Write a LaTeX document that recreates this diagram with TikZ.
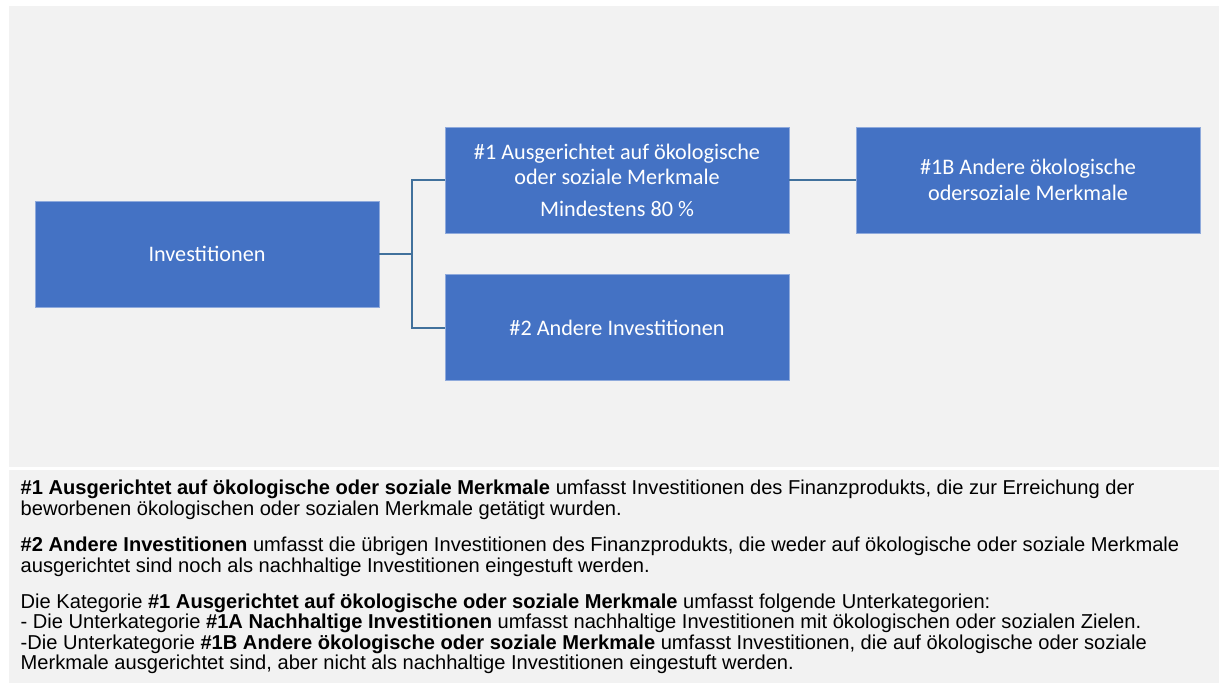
\documentclass[tikz,border=0pt]{standalone}
\usepackage{fontspec}
\setmainfont{Liberation Sans}
\newfontfamily\boxfont{Carlito}
\definecolor{panelgray}{HTML}{F2F2F2}
\definecolor{boxblue}{HTML}{4472C4}
\definecolor{boxedge}{HTML}{8FAADC}
\definecolor{linkblue}{HTML}{41719C}
\tikzset{
  panel/.style={fill=panelgray, draw=none},
  bluebox/.style={rectangle, fill=boxblue, draw=boxedge, line width=0.6pt,
    minimum width=344pt, minimum height=106pt, inner sep=0pt},
  boxtext/.style={text=white, inner sep=0pt, anchor=base,
    font=\boxfont\fontsize{22.2}{24}\selectfont},
  link/.style={draw=linkblue, line width=2pt},
  noteline/.style={anchor=base west, inner sep=0pt, text=black,
    font=\fontsize{20.1}{22}\selectfont}
}
\begin{document}
\begin{tikzpicture}[x=1pt, y=-1pt]
\useasboundingbox (0,0) rectangle (1224,683);
\fill[white] (0,0) rectangle (1224,683);
% panels
\path[panel] (9,6) rectangle (1219,467);
\path[panel] (9,470) rectangle (1219,683);

% boxes
\node[bluebox] (inv) at (207,254) {};
\node[bluebox] (b1)  at (617,180) {};
\node[bluebox] (b2)  at (617,327.5) {};
\node[bluebox] (b1b) at (1028,180) {};

% connectors
\coordinate (j) at (412,254);
\draw[link] (inv.east) -- (j);
\draw[link] (j) |- (b1.west);
\draw[link] (j) |- (b2.west);
\draw[link] (b1.east) -- (b1b.west);

% box texts
\node[boxtext] (tinv) at (207,261) {Investitionen};
\node[boxtext] (tb1a) at (617,159) {\#1 Ausgerichtet auf ökologische};
\node[boxtext] (tb1b) at (617,184) {oder soziale Merkmale};
\node[boxtext] (tb1c) at (617,216) {Mindestens 80 \%};
\node[boxtext] (tb2)  at (617,335) {\#2 Andere Investitionen};
\node[boxtext] (tb1ba) at (1028,174.5) {\#1B Andere ökologische};
\node[boxtext] (tb1bb) at (1028,200) {odersoziale Merkmale};

% notes
\node[noteline] (n1) at (20.5,494.5) {\textbf{\#1 Ausgerichtet auf ökologische oder soziale Merkmale} umfasst Investitionen des Finanzprodukts, die zur Erreichung der};
\node[noteline] (n2) at (20.5,515.5) {beworbenen ökologischen oder sozialen Merkmale getätigt wurden.};
\node[noteline] (n3) at (20.5,551.5) {\textbf{\#2 Andere Investitionen} umfasst die übrigen Investitionen des Finanzprodukts, die weder auf ökologische oder soziale Merkmale};
\node[noteline] (n4) at (20.5,572.5) {ausgerichtet sind noch als nachhaltige Investitionen eingestuft werden.};
\node[noteline] (n5) at (20.5,608) {Die Kategorie \textbf{\#1 Ausgerichtet auf ökologische oder soziale Merkmale} umfasst folgende Unterkategorien:};
\node[noteline] (n6) at (20.5,628.5) {- Die Unterkategorie \textbf{\#1A Nachhaltige Investitionen} umfasst nachhaltige Investitionen mit ökologischen oder sozialen Zielen.};
\node[noteline] (n7) at (20.5,649) {-Die Unterkategorie \textbf{\#1B Andere ökologische oder soziale Merkmale} umfasst Investitionen, die auf ökologische oder soziale};
\node[noteline] (n8) at (20.5,669.5) {Merkmale ausgerichtet sind, aber nicht als nachhaltige Investitionen eingestuft werden.};
\end{tikzpicture}
\end{document}
